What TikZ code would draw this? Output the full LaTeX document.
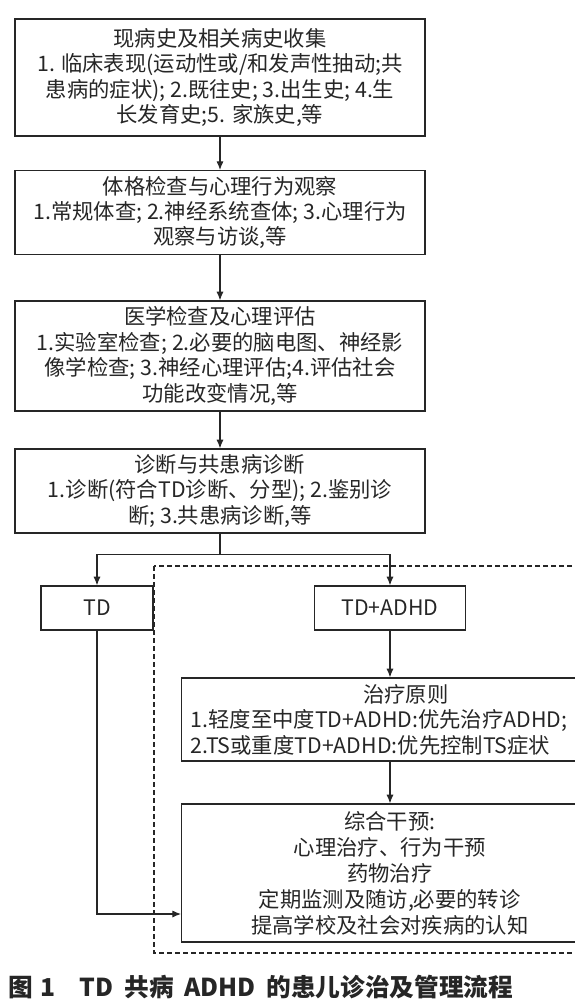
\documentclass[tikz,border=0pt]{standalone}
\usepackage{fontspec}
\setmainfont{Noto Sans CJK SC}
\usetikzlibrary{arrows.meta,positioning,calc}
\definecolor{ink}{HTML}{262626}
\tikzset{
  box/.style={draw=ink,line width=1pt,align=center,text=ink,
    font=\fontsize{16}{19.1}\selectfont,inner sep=4pt},
  arr/.style={-{Latex[length=2.3mm,width=1.9mm]},line width=0.8pt,draw=ink},
  frame/.style={draw=ink,line width=0.8pt,dash pattern=on 3.6pt off 2.4pt}
}
\begin{document}
\begin{tikzpicture}[x=0.75pt,y=-0.75pt]
    \useasboundingbox (0,0) rectangle (575,1000);
    % main chain
    \node[box,minimum width=307.5pt,minimum height=87.75pt] (hist) at (220,77.5)
      {现病史及相关病史收集\\1. 临床表现(运动性或/和发声性抽动;共\\患病的症状); 2.既往史; 3.出生史; 4.生\\长发育史;5. 家族史,等};
    \node[box,minimum width=307.5pt,minimum height=62.25pt] (exam) at (220,212.5)
      {体格检查与心理行为观察\\1.常规体查; 2.神经系统查体; 3.心理行为\\观察与访谈,等};
    \node[box,minimum width=307.5pt,minimum height=82.5pt] (eval) at (220,356)
      {医学检查及心理评估\\1.实验室检查; 2.必要的脑电图、神经影\\像学检查; 3.神经心理评估;4.评估社会\\功能改变情况,等};
    \node[box,minimum width=307.5pt,minimum height=63pt] (diag) at (220,491)
      {诊断与共患病诊断\\1.诊断(符合TD诊断、分型); 2.鉴别诊\\断; 3.共患病诊断,等};
    % two branches
    \node[box,minimum width=84pt,minimum height=33pt] (td) at (97,608) {TD};
    \node[box,minimum width=113.25pt,minimum height=33pt] (tdadhd) at (390,608) {TD+ADHD};
    \draw[frame] (154,566) rectangle (640,953);
    \node[box,anchor=west,inner xsep=0pt,minimum height=62.25pt] (rule) at (181,719.5)
      {\parbox{336pt}{\makebox[336pt]{治疗原则}\\
       \hspace*{6.75pt}1.轻度至中度TD+ADHD:优先治疗ADHD;\\
       \hspace*{6.75pt}2.TS或重度TD+ADHD:优先控制TS症状}};
    \node[box,anchor=west,inner xsep=0pt,minimum height=103.5pt,
      font=\fontsize{16}{19.5}\selectfont] (care) at (181,873)
      {\parbox{312pt}{\centering 综合干预:\\心理治疗、行为干预\\药物治疗\\定期监测及随访,必要的转诊\\提高学校及社会对疾病的认知}\hspace*{24pt}};
    % connectors
    \draw[arr] (hist) -- (exam);
    \draw[arr] (exam) -- (eval);
    \draw[arr] (eval) -- (diag);
    \draw[line width=0.8pt,draw=ink] (diag.south) -- ++(0,21) coordinate (split);
    \draw[arr] (split) -| (td.north);
    \draw[arr] (split) -| (tdadhd.north);
    \draw[arr] (tdadhd.south) -- (tdadhd.south |- rule.north);
    \draw[arr] (tdadhd.south |- rule.south) -- (tdadhd.south |- care.north);
    \draw[arr] (td.south) |- ($(care.west)+(0,41)$);
    % caption
    \node[anchor=west,font=\fontsize{18.5}{20}\selectfont\bfseries,text=ink,inner sep=0pt] (cap) at (8,987)
      {图\hspace{6pt}1\hspace{18pt}TD\hspace{8pt}共病\hspace{8pt}ADHD\hspace{8pt}的患儿诊治及管理流程};
\end{tikzpicture}
\end{document}
